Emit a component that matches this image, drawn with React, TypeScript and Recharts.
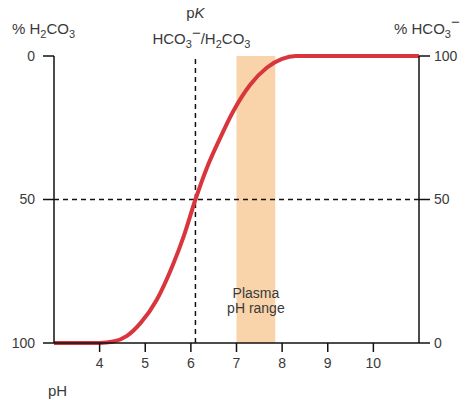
import React from "react";
import {
  LineChart,
  Line,
  XAxis,
  YAxis,
  ReferenceLine,
  ReferenceArea,
} from "recharts";

// pH on the x axis, % HCO3-
const phValues = [3, 3.5, 4, 4.3, 4.6, 4.9, 5.25, 5.6, 5.85, 6.1, 6.35, 6.6, 6.92, 7.3, 7.67, 8.0, 8.3, 9, 10, 11];
const hco3Percent = [0, 0, 0, 0.5, 2.5, 7, 15, 27, 37.5, 50, 61, 70, 80.5, 90, 96, 99, 100, 100, 100, 100];

const phTicks = [4, 5, 6, 7, 8, 9, 10];
const percentTicks = [0, 50, 100];
const pK = 6.1;
const plasmaRange = [7.0, 7.85];

const data = phValues.map((ph, i) => ({ ph, hco3: hco3Percent[i] }));

const TEXT = "#3a3a3a";
const AXIS = "#111";
const FONT = "'Liberation Sans', Arial, sans-serif";

function PkLabel(props: any) {
  const x = props.viewBox?.x ?? 0;
  return (
    <g fill={TEXT} fontSize={15} fontFamily={FONT}>
      <text x={x} y={18} textAnchor="middle">
        p<tspan fontStyle="italic">K</tspan>
      </text>
      <text x={x + 6} y={44} textAnchor="middle">
        HCO<tspan dy={4} fontSize={11}>3</tspan>
        <tspan dy={-10}>−</tspan>
        <tspan dy={6}>/H</tspan>
        <tspan dy={4} fontSize={11}>2</tspan>
        <tspan dy={-4}>CO</tspan>
        <tspan dy={4} fontSize={11}>3</tspan>
      </text>
    </g>
  );
}

function PlasmaLabel(props: any) {
  const vb = props.viewBox ?? { x: 0, width: 0 };
  const cx = vb.x + vb.width / 2;
  return (
    <g fill={TEXT} fontSize={14} fontFamily={FONT}>
      <text x={cx} y={298} textAnchor="middle">Plasma</text>
      <text x={cx} y={313} textAnchor="middle">pH range</text>
    </g>
  );
}

function LeftTitle() {
  return (
    <text x={12} y={34} fill={TEXT} fontSize={15} fontFamily={FONT}>
      % H<tspan dy={4} fontSize={11}>2</tspan>
      <tspan dy={-4}>CO</tspan>
      <tspan dy={4} fontSize={11}>3</tspan>
    </text>
  );
}

function RightTitle() {
  return (
    <text x={394} y={34} fill={TEXT} fontSize={15} fontFamily={FONT}>
      % HCO<tspan dy={4} fontSize={11}>3</tspan>
      <tspan dy={-11}>−</tspan>
    </text>
  );
}

function PhTitle(props: any) {
  const x = props.viewBox?.x ?? 0;
  return (
    <text x={x - 6} y={396} fill={TEXT} fontSize={15} fontFamily={FONT}>
      pH
    </text>
  );
}

export default function App() {
  const tick = { fontSize: 14, fill: TEXT, fontFamily: FONT };
  return (
    <div style={{ position: "absolute", left: 0, top: 0, background: "#fff" }}>
      <LineChart
        width={465}
        height={400}
        data={data}
        margin={{ top: 56, right: 0, left: 0, bottom: 0 }}
        style={{ fontFamily: FONT }}
      >
        <XAxis
          type="number"
          dataKey="ph"
          domain={[3, 11]}
          ticks={phTicks}
          height={57}
          tick={tick}
          tickSize={9}
          tickMargin={6}
          stroke={AXIS}
          strokeWidth={1.5}
          label={PhTitle}
        />
        <YAxis
          yAxisId="left"
          orientation="left"
          type="number"
          reversed
          domain={[0, 100]}
          ticks={percentTicks}
          width={54}
          tick={tick}
          tickSize={11}
          tickMargin={8}
          stroke={AXIS}
          strokeWidth={1.5}
          label={LeftTitle}
        />
        <YAxis
          yAxisId="right"
          orientation="right"
          type="number"
          domain={[0, 100]}
          ticks={percentTicks}
          width={46}
          tick={tick}
          tickSize={11}
          tickMargin={4}
          stroke={AXIS}
          strokeWidth={1.5}
          label={RightTitle}
        />
        <ReferenceArea
          yAxisId="right"
          x1={plasmaRange[0]}
          x2={plasmaRange[1]}
          y1={0}
          y2={100}
          fill="#f9d3a9"
          fillOpacity={1}
          stroke="none"
          label={PlasmaLabel}
        />
        <ReferenceLine
          yAxisId="right"
          y={50}
          stroke={AXIS}
          strokeWidth={1.5}
          strokeDasharray="5 4"
        />
        <ReferenceLine
          yAxisId="right"
          x={pK}
          stroke={AXIS}
          strokeWidth={1.5}
          strokeDasharray="5 4"
          label={PkLabel}
        />
        {/* invisible series so the left (reversed) axis gets its scale */}
        <Line
          yAxisId="left"
          dataKey="hco3"
          stroke="transparent"
          strokeWidth={0}
          dot={false}
          activeDot={false}
          legendType="none"
          isAnimationActive={false}
        />
        <Line
          yAxisId="right"
          dataKey="hco3"
          type="monotone"
          stroke="#d8353d"
          strokeWidth={4}
          dot={false}
          isAnimationActive={false}
        />
      </LineChart>
    </div>
  );
}
